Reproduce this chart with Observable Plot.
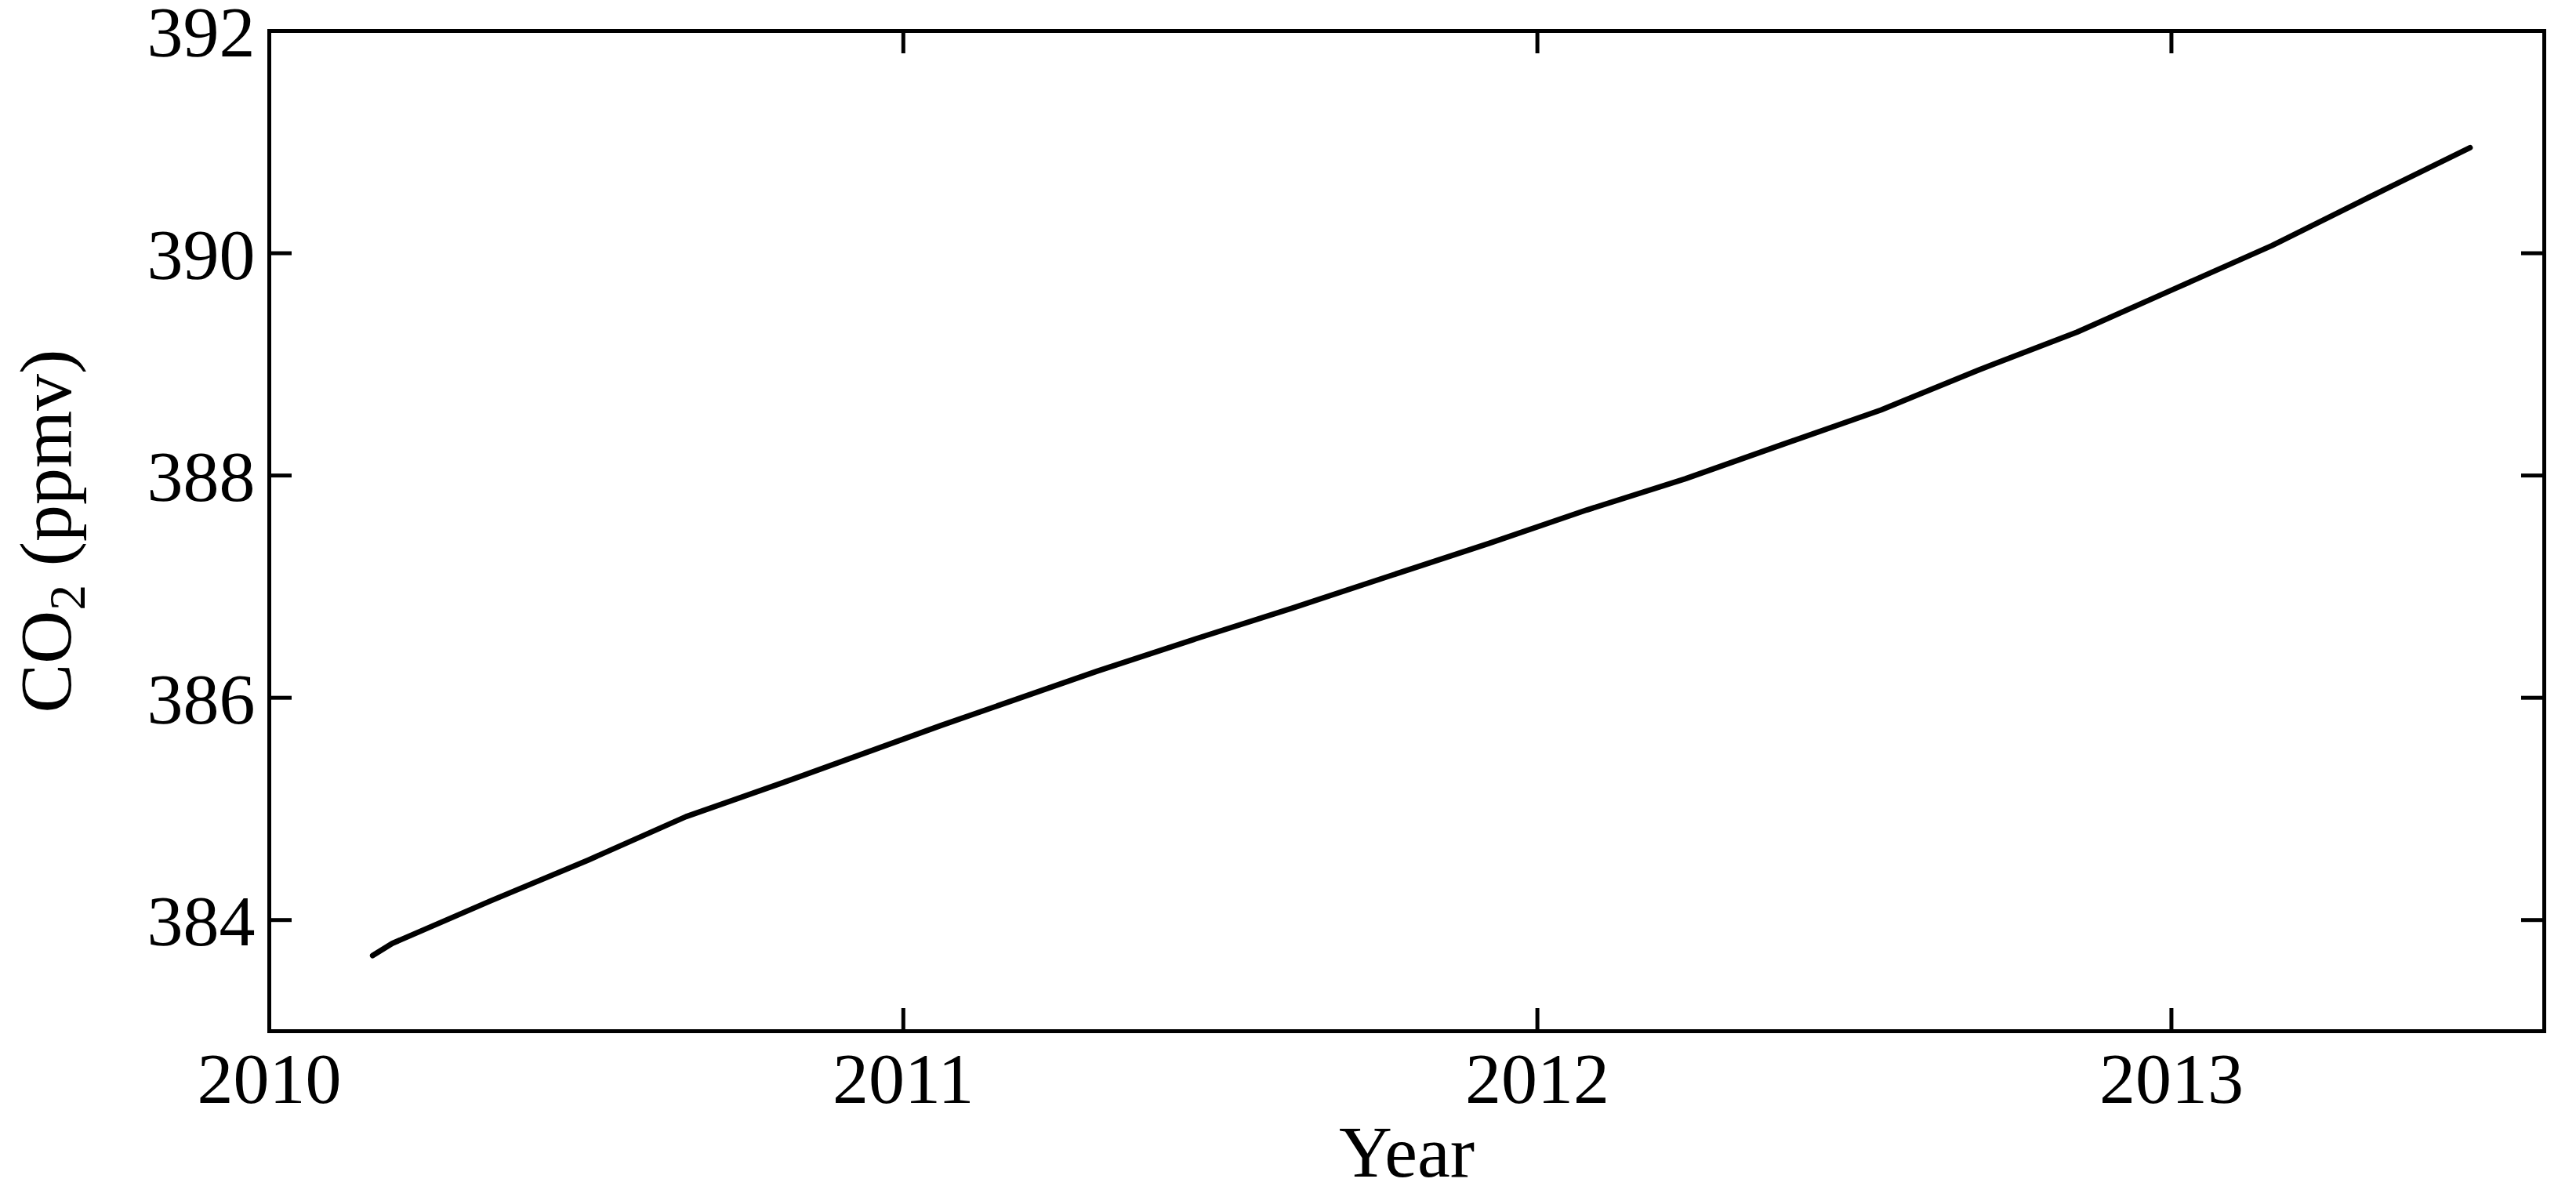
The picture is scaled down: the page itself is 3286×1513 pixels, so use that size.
<!DOCTYPE html>
<html>
<head>
<meta charset="utf-8">
<script src="https://cdn.jsdelivr.net/npm/d3@7"></script>
<script src="https://cdn.jsdelivr.net/npm/@observablehq/plot@0.6"></script>
<style>
  html, body { margin: 0; padding: 0; background: #fff; }
  #chart svg { display: block; }
</style>
</head>
<body>
<div id="chart"></div>
<script>
// ---- Data ----
const years = [2010.163, 2010.194, 2010.348, 2010.503, 2010.657, 2010.812, 2011.059, 2011.306,
               2011.461, 2011.615, 2011.769, 2011.924, 2012.078, 2012.233, 2012.387, 2012.542,
               2012.696, 2012.851, 2013.005, 2013.159, 2013.314, 2013.471];
const co2   = [383.68, 383.79, 384.17, 384.54, 384.93, 385.24, 385.75, 386.24,
               386.53, 386.81, 387.10, 387.39, 387.69, 387.97, 388.28, 388.59,
               388.95, 389.29, 389.68, 390.07, 390.51, 390.95];
const xTicks = [2010, 2011, 2012, 2013];
const yTicks = [384, 386, 388, 390, 392];
const xLabel = "Year";
const yLabel = "CO2 (ppmv)";

const data = years.map((t, i) => ({year: t, co2: co2[i]}));

// ---- Layout ----
const W = 3286, H = 1513;
const mL = 343, mR = 41, mT = 39, mB = 198;
const innerW = W - mL - mR, innerH = H - mT - mB;
const tickLen = 29;
const xDomain = [2010, 2013.588];
const yDomain = [383, 392];
const font = "'Liberation Serif', 'Times New Roman', Times, serif";
const lw = 5;

const plot = Plot.plot({
  width: W,
  height: H,
  marginLeft: mL,
  marginRight: mR,
  marginTop: mT,
  marginBottom: mB,
  x: {domain: xDomain},
  y: {domain: yDomain},
  style: {fontFamily: font, fontSize: "92px", color: "black", background: "white"},
  marks: [
    // inward ticks on all four sides (y1 = top value, y2 = bottom value)
    Plot.ruleX(xTicks, {x: d => d, y1: yDomain[1], y2: yDomain[0], insetTop: innerH - tickLen, stroke: "black", strokeWidth: lw}),
    Plot.ruleX(xTicks, {x: d => d, y1: yDomain[1], y2: yDomain[0], insetBottom: innerH - tickLen, stroke: "black", strokeWidth: lw}),
    Plot.ruleY(yTicks, {y: d => d, x1: xDomain[0], x2: xDomain[1], insetRight: innerW - tickLen, stroke: "black", strokeWidth: lw}),
    Plot.ruleY(yTicks, {y: d => d, x1: xDomain[0], x2: xDomain[1], insetLeft: innerW - tickLen, stroke: "black", strokeWidth: lw}),
    Plot.line(data, {x: "year", y: "co2", stroke: "black", strokeWidth: 7, curve: "linear"}),
    Plot.frame({stroke: "black", strokeWidth: lw}),
    Plot.axisX(xTicks, {tickSize: 0, tickPadding: 26, tickFormat: d => String(d), label: null, fontSize: 92}),
    Plot.axisY(yTicks, {tickSize: 0, tickPadding: 18, tickFormat: d => String(d), label: null, fontSize: 92, dy: 3}),
    Plot.text([xLabel], {frameAnchor: "bottom", dy: 185, text: d => d, fontSize: 94, fill: "black"}),
    Plot.text([yLabel], {frameAnchor: "left", textAnchor: "middle", dx: -284, rotate: -90, text: d => d, fontSize: 94, fill: "black"})
  ]
});

// subscript "2" in CO2
d3.select(plot).selectAll("text").filter(function () { return this.textContent === yLabel; }).each(function () {
  const t = d3.select(this);
  t.text(null);
  t.append("tspan").text("CO");
  t.append("tspan").attr("font-size", "66px").attr("dy", "18px").text("2");
  t.append("tspan").attr("dy", "-18px").text(" (ppmv)");
});

document.getElementById("chart").appendChild(plot);
</script>
</body>
</html>
